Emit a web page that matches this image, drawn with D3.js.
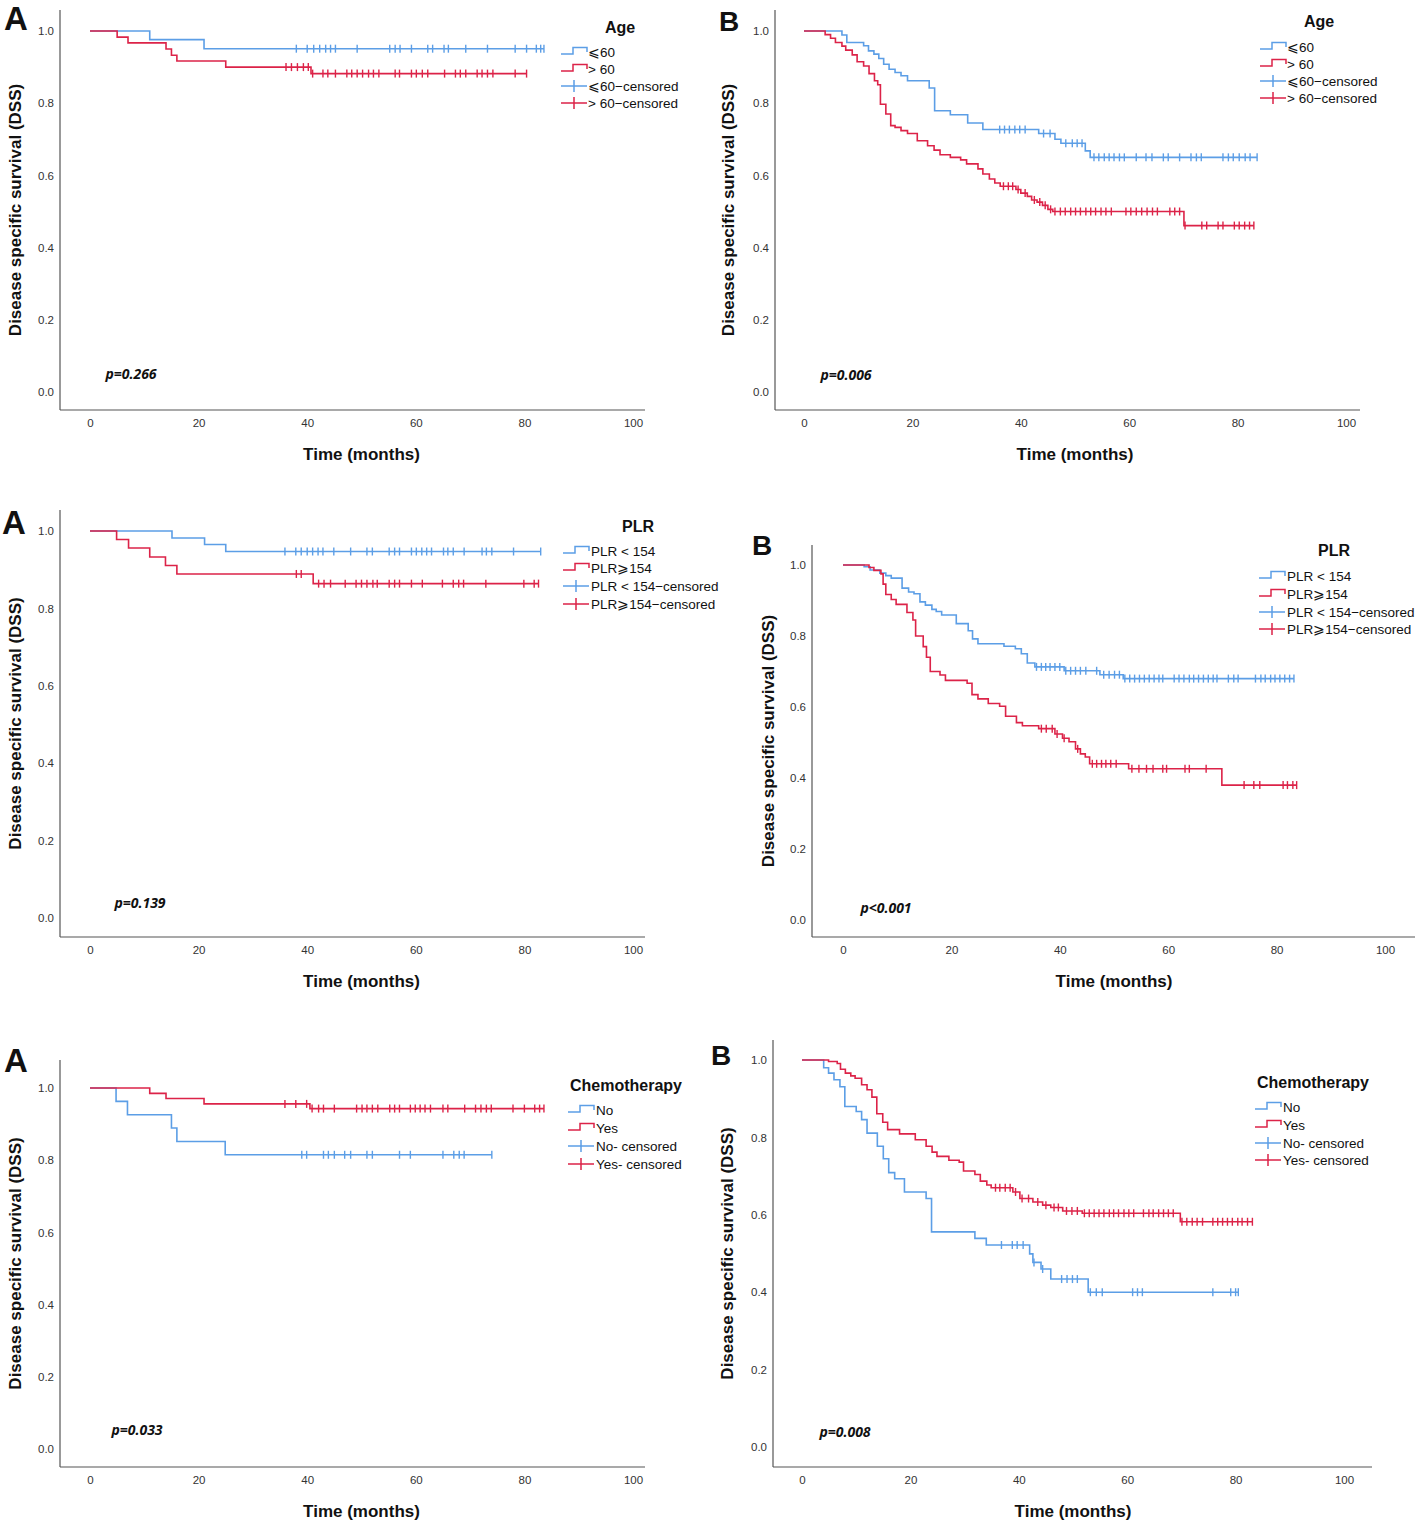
<html lang="en">
<head>
<meta charset="utf-8">
<title>Disease specific survival curves</title>
<style>
    body { margin: 0; background: #fff; }
    svg text { font-family: "Liberation Sans", Arial, sans-serif; fill: #111; }
    .tick text { font-size: 11.5px; fill: #333; }
    .axis-title { font-size: 17px; font-weight: bold; }
    .legend-title { font-size: 16px; font-weight: bold; }
    .legend-item { font-size: 13.5px; }
    .pval { font-family: "Open Sans", sans-serif; font-style: italic; font-weight: bold; font-size: 14px; }
    .letter { font-weight: bold; }
</style>
</head>
<body>
<div id="chart"></div>

<script src="https://cdnjs.cloudflare.com/ajax/libs/d3/7.8.5/d3.min.js"></script>
<script>

var xTicks = [0, 20, 40, 60, 80, 100];
var yTicks = [0, 0.2, 0.4, 0.6, 0.8, 1.0];

var ageLabels = ["\u2A7D60", "> 60", "\u2A7D60\u2212censored", "> 60\u2212censored"];
var plrLabels = ["PLR < 154", "PLR\u2A7E154", "PLR < 154\u2212censored", "PLR\u2A7E154\u2212censored"];
var chemoLabels = ["No", "Yes", "No- censored", "Yes- censored"];
var pValues = ["p=0.266", "p=0.006", "p=0.139", "p<0.001", "p=0.033", "p=0.008"];

// [months, survival] at each drop ; censored times in months
var ageA_le60_events = [[11, 0.976], [21, 0.951]];
var ageA_le60_cens = [38, 40, 41.2, 42.3, 43.4, 44.3, 45.2, 49.2, 55.2, 56.2, 57.1, 59.2, 62.2, 63.1, 65.2, 66, 69.2, 73.2, 78.3, 80.4, 82.2, 83.0, 83.6];
var ageA_gt60_events = [[5, 0.983], [7, 0.967], [14, 0.95], [15, 0.933], [16, 0.917], [25, 0.9], [40.7, 0.882]];
var ageA_gt60_cens = [36.1, 37.1, 38.2, 39.3, 40.2, 41.0, 42.9, 43.8, 45.2, 47.3, 48.2, 49.2, 50.2, 51.3, 52.2, 53.2, 56.2, 57.0, 59.2, 60.1, 61.2, 62.2, 65.3, 67.3, 68.2, 69.2, 71.3, 72.2, 73.2, 74.2, 78.3, 80.4];

var ageB_le60_events = [[7.0, 0.989], [7.9, 0.968], [11.0, 0.959], [11.9, 0.945], [12.9, 0.936], [13.8, 0.924], [14.7, 0.908], [15.7, 0.894], [16.8, 0.885], [17.9, 0.876], [19.1, 0.862], [23.1, 0.842], [24.1, 0.779], [27.0, 0.768], [30.2, 0.745], [33.0, 0.727], [43.3, 0.716], [46.3, 0.70], [47.4, 0.689], [51.9, 0.668], [52.8, 0.65]];
var ageB_le60_cens = [36.1, 37.0, 37.9, 38.9, 39.8, 40.8, 44.2, 45.4, 48.3, 49.5, 50.4, 51.3, 53.5, 54.4, 55.4, 56.3, 57.2, 58.2, 59.1, 61.3, 63.1, 64.2, 66.3, 67.2, 69.3, 71.4, 72.4, 73.3, 77.3, 78.3, 79.2, 80.3, 81.4, 82.3, 83.6];
var ageB_gt60_events = [[3.9, 0.99], [4.9, 0.98], [5.8, 0.968], [7.0, 0.958], [7.7, 0.947], [8.9, 0.934], [9.8, 0.915], [11.0, 0.903], [12.0, 0.882], [13.0, 0.862], [13.6, 0.851], [14.1, 0.797], [15.1, 0.77], [16.0, 0.738], [16.8, 0.733], [17.9, 0.724], [19.1, 0.716], [20.9, 0.696], [22.8, 0.682], [24.0, 0.670], [25.1, 0.657], [27.0, 0.650], [28.9, 0.643], [30.0, 0.632], [32.1, 0.618], [33.0, 0.604], [34.2, 0.590], [35.2, 0.579], [36.2, 0.570], [39.1, 0.561], [40.0, 0.551], [41.2, 0.542], [42.0, 0.532], [43.0, 0.526], [44.0, 0.517], [45.0, 0.506], [45.9, 0.50], [70.1, 0.461]];
var ageB_gt60_cens = [36.8, 37.7, 38.5, 39.5, 40.8, 42.5, 43.5, 44.5, 45.5, 46.3, 47.3, 48.2, 49.2, 50.1, 51.0, 52.0, 52.9, 53.8, 54.8, 55.7, 56.7, 59.4, 60.3, 61.3, 62.3, 63.3, 64.3, 65.2, 67.5, 68.4, 69.3, 70.3, 73.4, 74.3, 76.4, 77.3, 79.4, 80.3, 81.3, 82.2, 83.0];

var plrA_low_events = [[15.1, 0.982], [21.1, 0.965], [25.0, 0.947]];
var plrA_low_cens = [35.9, 37.9, 38.9, 40.0, 41.0, 42.0, 42.9, 44.9, 48.0, 51.0, 52.0, 55.1, 56.1, 57.0, 59.2, 60.1, 61.1, 62.0, 62.9, 65.1, 65.9, 66.9, 68.9, 72.2, 73.0, 74.0, 78.0, 83.0];
var plrA_high_events = [[4.9, 0.978], [7.1, 0.956], [11.0, 0.933], [13.9, 0.911], [16.0, 0.889], [41.1, 0.864]];
var plrA_high_cens = [38.0, 38.9, 42.1, 43.1, 44.3, 47.0, 49.0, 50.0, 51.0, 52.1, 52.9, 55.1, 56.1, 57.0, 59.2, 61.2, 64.9, 66.9, 67.9, 68.8, 72.9, 79.9, 81.8, 82.6];

var plrB_low_events = [[3.9, 0.995], [5.0, 0.986], [6.8, 0.977], [7.9, 0.970], [8.9, 0.963], [10.9, 0.935], [12.1, 0.924], [13.1, 0.919], [14.2, 0.896], [15.2, 0.887], [16.4, 0.875], [17.2, 0.869], [18.2, 0.859], [20.9, 0.835], [23.1, 0.815], [23.9, 0.792], [24.9, 0.778], [29.7, 0.771], [31.8, 0.764], [32.9, 0.750], [34.0, 0.724], [35.4, 0.713], [40.8, 0.702], [47.4, 0.691], [51.7, 0.680]];
var plrB_low_cens = [35.7, 36.6, 37.4, 38.2, 39.1, 40.0, 41.1, 42.0, 42.9, 43.8, 44.8, 46.8, 48.1, 49.1, 50.1, 51.0, 52.0, 52.9, 53.8, 54.7, 55.6, 56.5, 57.4, 58.3, 59.0, 61.1, 62.0, 62.9, 63.9, 64.7, 65.6, 66.5, 67.4, 68.3, 69.0, 71.1, 72.1, 72.9, 76.1, 77.1, 77.9, 78.9, 79.7, 80.6, 81.5, 82.4, 83.2];
var plrB_high_events = [[4.8, 0.993], [5.7, 0.985], [7.0, 0.975], [7.4, 0.946], [7.9, 0.917], [8.9, 0.903], [9.8, 0.889], [11.8, 0.866], [12.9, 0.845], [13.4, 0.80], [14.8, 0.77], [15.4, 0.74], [16.1, 0.70], [17.9, 0.69], [18.9, 0.675], [22.9, 0.667], [23.8, 0.635], [24.9, 0.623], [26.8, 0.610], [28.9, 0.602], [30.0, 0.574], [32.0, 0.556], [33.1, 0.547], [36.1, 0.539], [39.1, 0.524], [40.5, 0.512], [41.7, 0.502], [42.9, 0.482], [43.8, 0.468], [44.7, 0.459], [45.5, 0.440], [52.7, 0.426], [69.9, 0.380]];
var plrB_high_cens = [36.6, 37.5, 38.6, 39.5, 40.8, 43.3, 46.0, 46.8, 47.7, 48.5, 49.4, 50.4, 53.3, 54.6, 56.0, 57.2, 59.0, 59.7, 63.1, 63.9, 67.0, 74.0, 75.8, 76.9, 81.2, 82.0, 83.0, 83.7];

var chemoA_no_events = [[4.8, 0.963], [6.9, 0.926], [15.0, 0.889], [16.0, 0.852], [24.9, 0.815]];
var chemoA_no_cens = [39.0, 39.9, 43.0, 43.9, 45.0, 46.9, 48.0, 51.0, 52.0, 57.0, 59.0, 65.0, 67.0, 68.0, 68.9, 74.0];
var chemoA_yes_events = [[11.0, 0.985], [14.0, 0.971], [21.0, 0.956], [40.5, 0.943]];
var chemoA_yes_cens = [35.9, 37.9, 39.9, 40.9, 42.1, 43.0, 45.0, 49.1, 50.1, 51.0, 52.0, 53.0, 55.2, 56.1, 57.0, 59.0, 59.9, 60.8, 61.7, 62.7, 65.0, 65.9, 69.0, 71.0, 72.0, 73.0, 73.9, 77.9, 80.0, 81.9, 82.8, 83.6];

var chemoB_no_events = [[4.0, 0.98], [4.9, 0.966], [5.9, 0.949], [7.0, 0.931], [7.9, 0.88], [10.0, 0.867], [11.0, 0.846], [12.0, 0.811], [13.9, 0.777], [15.0, 0.745], [16.0, 0.709], [17.1, 0.693], [18.9, 0.659], [22.9, 0.642], [23.9, 0.556], [31.9, 0.539], [34.0, 0.522], [42.0, 0.499], [42.6, 0.477], [44.1, 0.46], [45.9, 0.434], [52.8, 0.40]];
var chemoB_no_cens = [36.8, 38.8, 39.7, 40.8, 42.8, 44.4, 47.9, 48.9, 49.9, 50.8, 53.2, 54.3, 55.4, 61.0, 61.9, 62.8, 75.8, 79.1, 80.0, 80.5];
var chemoB_yes_events = [[4.9, 0.996], [6.5, 0.991], [7.1, 0.976], [8.0, 0.966], [9.0, 0.959], [9.8, 0.953], [11.0, 0.936], [12.0, 0.923], [12.9, 0.904], [13.8, 0.861], [14.9, 0.839], [15.8, 0.820], [18.0, 0.809], [20.9, 0.794], [22.9, 0.777], [24.0, 0.762], [24.9, 0.751], [27.1, 0.741], [29.0, 0.736], [29.8, 0.713], [31.9, 0.704], [32.9, 0.687], [34.1, 0.677], [34.9, 0.670], [38.9, 0.659], [40.2, 0.642], [42.6, 0.633], [44.4, 0.625], [45.9, 0.619], [48.1, 0.610], [51.7, 0.604], [69.8, 0.582]];
var chemoB_yes_cens = [35.7, 36.5, 37.5, 38.4, 39.4, 40.6, 41.8, 43.5, 45.0, 46.5, 47.3, 48.8, 49.8, 50.8, 52.1, 53.0, 53.9, 54.8, 55.7, 56.7, 57.5, 58.4, 59.4, 60.3, 61.2, 63.0, 64.0, 64.8, 65.8, 66.7, 67.6, 68.5, 70.1, 71.0, 72.0, 72.9, 73.9, 75.8, 76.7, 77.6, 78.5, 79.4, 80.4, 81.2, 82.2, 83.1];

var blue = "#5c9ee6";
var red = "#dc2348";

// panel layout (pixels)
var panels = [
    {letter: "A", lx: 4, ly: 30, ls: 33, left: 60, top: 10, bottom: 410, right: 645, xr: [90, 633], yr: [392, 31], ytx: 15,
     title: "Age", labels: ageLabels, legX: 561, legTX: 588, legTitleX: 620, legTitleY: 27, rows: [52, 69, 86, 103],
     p: pValues[0], px: 131, py: 373,
     groups: [{events: ageA_le60_events, cens: ageA_le60_cens, color: blue}, {events: ageA_gt60_events, cens: ageA_gt60_cens, color: red}]},
    {letter: "B", lx: 719, ly: 31, ls: 28, left: 775, top: 10, bottom: 410, right: 1360, xr: [804, 1346], yr: [392, 31], ytx: 728,
     title: "Age", labels: ageLabels, legX: 1260, legTX: 1287, legTitleX: 1319, legTitleY: 21, rows: [47, 64, 81, 98],
     p: pValues[1], px: 846, py: 374,
     groups: [{events: ageB_le60_events, cens: ageB_le60_cens, color: blue}, {events: ageB_gt60_events, cens: ageB_gt60_cens, color: red}]},
    {letter: "A", lx: 2, ly: 534, ls: 33, left: 60, top: 510, bottom: 937, right: 645, xr: [90, 633], yr: [918, 531], ytx: 15,
     title: "PLR", labels: plrLabels, legX: 563, legTX: 591, legTitleX: 638, legTitleY: 526, rows: [551, 568, 586, 604],
     p: pValues[2], px: 140, py: 902,
     groups: [{events: plrA_low_events, cens: plrA_low_cens, color: blue}, {events: plrA_high_events, cens: plrA_high_cens, color: red}]},
    {letter: "B", lx: 752, ly: 555, ls: 28, left: 812, top: 545, bottom: 937, right: 1415, xr: [843, 1385], yr: [920, 565], ytx: 768,
     title: "PLR", labels: plrLabels, legX: 1259, legTX: 1287, legTitleX: 1334, legTitleY: 550, rows: [576, 594, 612, 629],
     p: pValues[3], px: 886, py: 907,
     groups: [{events: plrB_low_events, cens: plrB_low_cens, color: blue}, {events: plrB_high_events, cens: plrB_high_cens, color: red}]},
    {letter: "A", lx: 4, ly: 1072, ls: 33, left: 60, top: 1060, bottom: 1467, right: 645, xr: [90, 633], yr: [1449, 1088], ytx: 15,
     title: "Chemotherapy", labels: chemoLabels, legX: 568, legTX: 596, legTitleX: 626, legTitleY: 1085, rows: [1110, 1128, 1146, 1164],
     p: pValues[4], px: 137, py: 1429,
     groups: [{events: chemoA_no_events, cens: chemoA_no_cens, color: blue}, {events: chemoA_yes_events, cens: chemoA_yes_cens, color: red}]},
    {letter: "B", lx: 711, ly: 1065, ls: 28, left: 773, top: 1040, bottom: 1467, right: 1372, xr: [802, 1344], yr: [1447, 1060], ytx: 727,
     title: "Chemotherapy", labels: chemoLabels, legX: 1255, legTX: 1283, legTitleX: 1313, legTitleY: 1082, rows: [1107, 1125, 1143, 1160],
     p: pValues[5], px: 845, py: 1431,
     groups: [{events: chemoB_no_events, cens: chemoB_no_cens, color: blue}, {events: chemoB_yes_events, cens: chemoB_yes_cens, color: red}]}
];

var svg = d3.select("#chart")
            .append("svg")
            .attr("width", 1418)
            .attr("height", 1522);

// survival value at time t
function survAt(events, t) {
    var s = 1;
    events.forEach(function(e) { if (e[0] <= t) s = e[1]; });
    return s;
}

panels.forEach(function(p) {
    var g = svg.append("g");
    var x = d3.scaleLinear().domain([0, 100]).range(p.xr);
    var y = d3.scaleLinear().domain([0, 1]).range(p.yr);

    // axis lines
    g.append("line").attr("x1", p.left).attr("x2", p.left).attr("y1", p.top).attr("y2", p.bottom)
        .attr("stroke", "#555").attr("stroke-width", 1.2);
    g.append("line").attr("x1", p.left).attr("x2", p.right).attr("y1", p.bottom).attr("y2", p.bottom)
        .attr("stroke", "#555").attr("stroke-width", 1.2);

    g.append("g")
        .attr("transform", "translate(0," + p.bottom + ")")
        .call(d3.axisBottom(x).tickValues(xTicks).tickSize(0).tickPadding(9))
        .call(function(a) { a.select(".domain").remove(); });

    g.append("g")
        .attr("transform", "translate(" + p.left + ",0)")
        .call(d3.axisLeft(y).tickValues(yTicks).tickFormat(d3.format(".1f")).tickSize(0).tickPadding(6))
        .call(function(a) { a.select(".domain").remove(); });

    // titles
    g.append("text").attr("class", "axis-title")
        .attr("x", (p.xr[0] + p.xr[1]) / 2).attr("y", p.bottom + 44)
        .attr("text-anchor", "middle").attr("dominant-baseline", "central")
        .text("Time (months)");
    g.append("text").attr("class", "axis-title")
        .attr("transform", "translate(" + p.ytx + "," + (p.top + p.bottom) / 2 + ") rotate(-90)")
        .attr("text-anchor", "middle").attr("dominant-baseline", "central")
        .text("Disease specific survival (DSS)");

    g.append("text").attr("class", "letter")
        .attr("x", p.lx).attr("y", p.ly)
        .style("font-size", p.ls + "px")
        .text(p.letter);

    g.append("text").attr("class", "pval")
        .attr("x", p.px).attr("y", p.py)
        .attr("text-anchor", "middle").attr("dominant-baseline", "central")
        .text(p.p);

    // curves
    var line = d3.line()
        .curve(d3.curveStepAfter)
        .x(function(d) { return x(d[0]); })
        .y(function(d) { return y(d[1]); });

    p.groups.forEach(function(gr) {
        var last = gr.events[gr.events.length - 1];
        var end = Math.max(d3.max(gr.cens), last[0]);
        var pts = [[0, 1]].concat(gr.events).concat([[end, last[1]]]);

        g.append("path")
            .datum(pts)
            .attr("d", line)
            .attr("fill", "none")
            .attr("stroke", gr.color)
            .attr("stroke-width", 1.6);

        g.selectAll(null)
            .data(gr.cens)
            .enter()
            .append("line")
            .attr("x1", function(d) { return x(d); })
            .attr("x2", function(d) { return x(d); })
            .attr("y1", function(d) { return y(survAt(gr.events, d)) - 4; })
            .attr("y2", function(d) { return y(survAt(gr.events, d)) + 4; })
            .attr("stroke", gr.color)
            .attr("stroke-width", 1.4);
    });

    // legend
    g.append("text").attr("class", "legend-title")
        .attr("x", p.legTitleX).attr("y", p.legTitleY)
        .attr("text-anchor", "middle").attr("dominant-baseline", "central")
        .text(p.title);

    p.labels.forEach(function(lab, i) {
        var ry = p.rows[i];
        var col = p.groups[i % 2].color;
        var sx = p.legX;
        var d;
        if (i < 2) {
            d = "M" + sx + "," + (ry + 2) + "H" + (sx + 12) + "V" + (ry - 4.5) + "H" + (sx + 26) + "V" + ry;
        } else {
            d = "M" + sx + "," + ry + "H" + (sx + 26) + "M" + (sx + 13) + "," + (ry - 6) + "V" + (ry + 6);
        }
        g.append("path").attr("d", d).attr("fill", "none")
            .attr("stroke", col).attr("stroke-width", 1.5);
        g.append("text").attr("class", "legend-item")
            .attr("x", p.legTX).attr("y", ry)
            .attr("dominant-baseline", "central")
            .text(lab);
    });
});

</script>
</body>
</html>
